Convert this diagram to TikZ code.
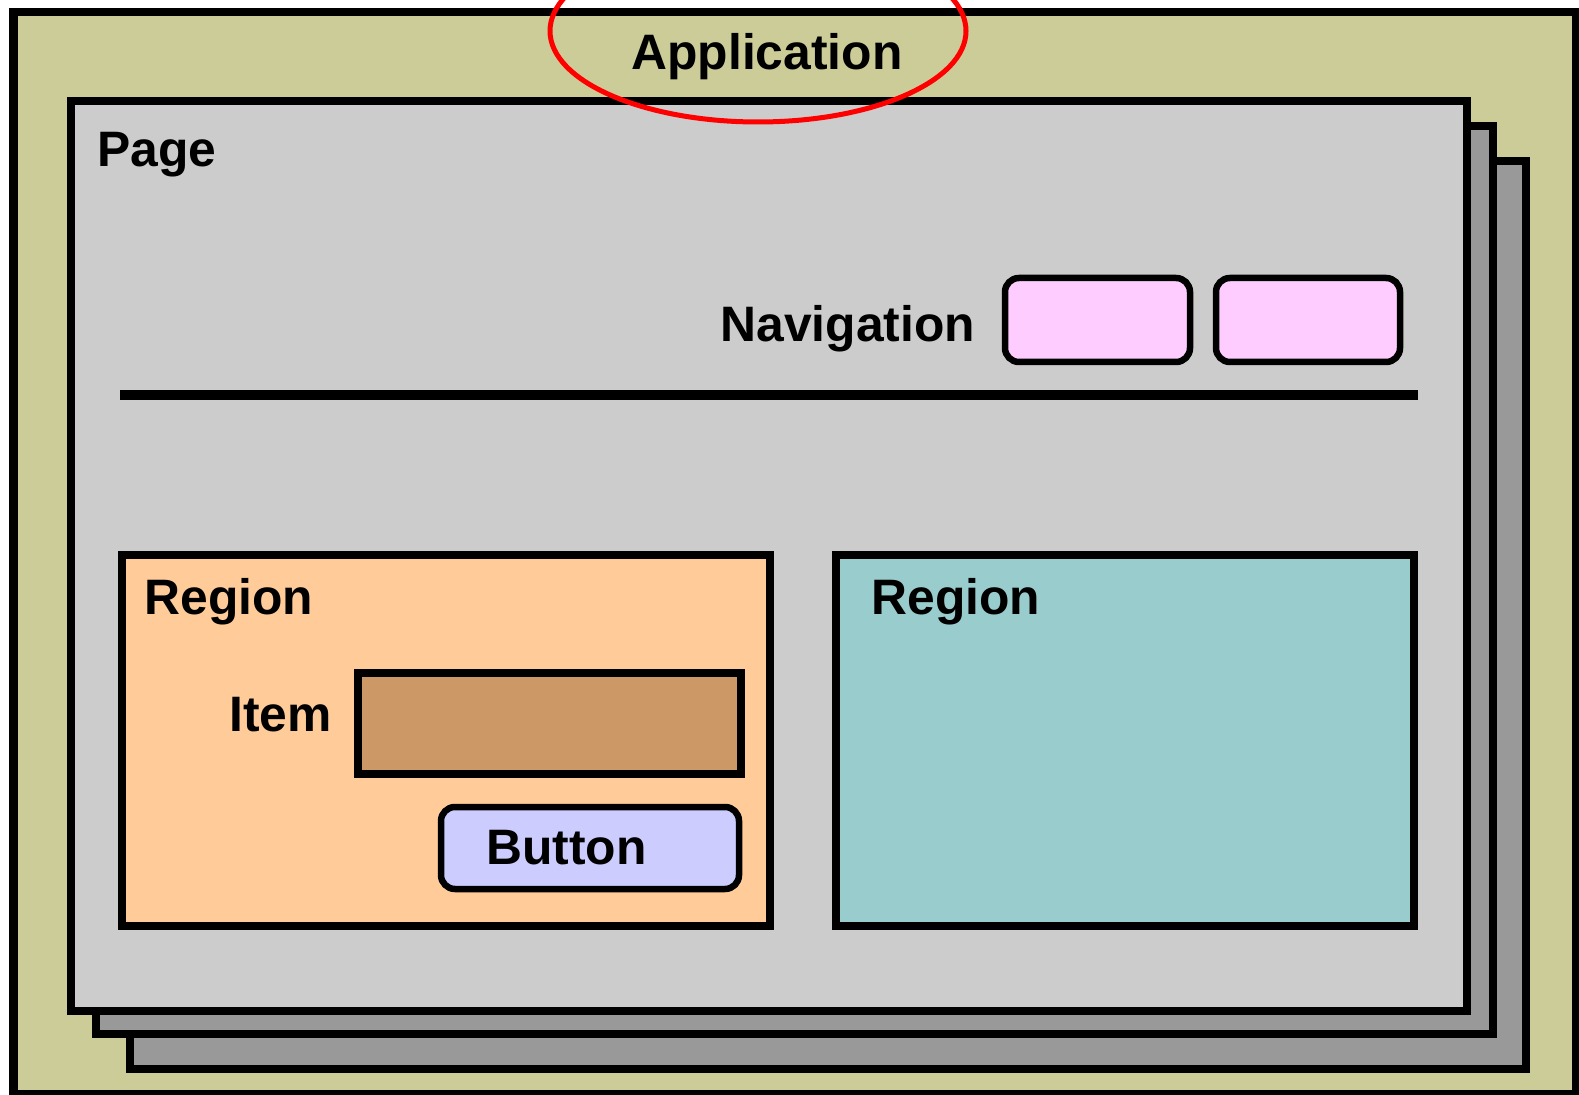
\documentclass[tikz,border=0pt]{standalone}
\usepackage{fontspec}
\setmainfont{Liberation Sans}
\definecolor{appbg}{HTML}{CCCC99}
\definecolor{pagebg}{HTML}{CCCCCC}
\definecolor{shadowbg}{HTML}{999999}
\definecolor{navpink}{HTML}{FFCCFF}
\definecolor{regorange}{HTML}{FFCC99}
\definecolor{regteal}{HTML}{99CCCC}
\definecolor{itembrown}{HTML}{CC9966}
\definecolor{btnblue}{HTML}{CCCCFF}
\begin{document}
\begin{tikzpicture}[x=0.5pt,y=-0.5pt,
  box/.style={draw=black,line width=4.25pt,line join=miter},
  navbox/.style={draw=black,line width=3.25pt,rounded corners=7pt},
  lbl/.style={font=\fontsize{24.9}{29}\selectfont\bfseries,inner sep=0pt,anchor=base west}]
\useasboundingbox (0,0) rectangle (1579,1095);
\fill[white] (0,0) rectangle (1579,1095);
% application frame
\draw[box,fill=appbg] (13.5,12) rectangle (1576,1094);
% stacked pages
\draw[box,fill=shadowbg] (130,161) rectangle (1526,1069);
\draw[box,fill=shadowbg] (96,126) rectangle (1493,1034);
\draw[box,fill=pagebg] (71,101) rectangle (1467,1011);
% separator
\draw[line width=4.75pt] (120,395) -- (1418,395);
% navigation boxes
\draw[navbox,fill=navpink] (1005,278) rectangle (1190,362);
\draw[navbox,fill=navpink] (1216,278) rectangle (1400,362);
% regions
\draw[box,fill=regorange] (122,555) rectangle (770,926);
\draw[box,fill=regteal] (836,555) rectangle (1414,926);
% item and button
\draw[box,fill=itembrown] (358,673) rectangle (741,774);
\draw[navbox,fill=btnblue] (441,807) rectangle (739,889);
% labels
\node[lbl] (apptext) at (631,70) {Application};
\node[lbl] (pagetext) at (97,167) {Page};
\node[lbl] (navtext) at (720,342) {Navigation};
\node[lbl] (regiona) at (144,615) {Region};
\node[lbl] (regionb) at (871,615) {Region};
\node[lbl] (itemtext) at (229,732) {Item};
\node[lbl] (buttontext) at (486,864) {Button};
% highlight ellipse
\draw[red,line width=2.5pt] (758,31) ellipse [x radius=104pt,y radius=45.5pt];
\end{tikzpicture}
\end{document}
